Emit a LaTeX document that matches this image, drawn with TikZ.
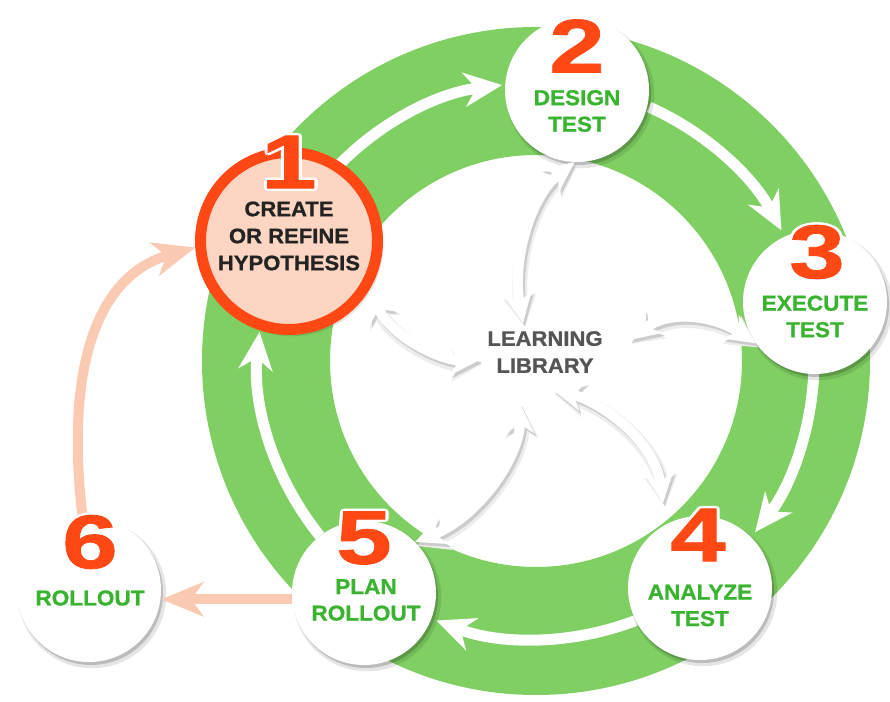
\documentclass[tikz,border=0pt]{standalone}
\usepackage{fontspec}
\setmainfont{Liberation Sans}[BoldFeatures={FakeBold=1,FakeStretch=1.05}]
\usepackage{graphicx}
\usetikzlibrary{arrows.meta,shadows,calc}
\definecolor{ringgreen}{RGB}{128,207,98}
\definecolor{labgreen}{RGB}{58,180,48}
\definecolor{numred}{RGB}{255,72,20}
\definecolor{peachfill}{RGB}{253,214,195}
\definecolor{peacharrow}{RGB}{250,202,178}
\definecolor{darktext}{RGB}{35,35,35}
\definecolor{graytext}{RGB}{85,85,85}
\newcommand\wcopy[3]{\makebox[0pt][l]{\hspace*{#1}\raisebox{#2}{\color{white}#3}}}
\newcommand\outlnum[1]{\scalebox{1.25}[1]{\wcopy{-2.5pt}{0pt}{#1}\wcopy{2.5pt}{0pt}{#1}\wcopy{0pt}{2.5pt}{#1}\wcopy{0pt}{-2.5pt}{#1}\wcopy{-1.8pt}{-1.8pt}{#1}\wcopy{1.8pt}{1.8pt}{#1}\wcopy{-1.8pt}{1.8pt}{#1}\wcopy{1.8pt}{-1.8pt}{#1}#1}}
\tikzset{
  circshadow/.style={drop shadow={shadow xshift=3pt,shadow yshift=-4pt,opacity=.10,fill=black,shadow scale=1.03},
                     drop shadow={shadow xshift=2pt,shadow yshift=-3pt,opacity=.18,fill=black}},
  stage/.style={circle, fill=white, minimum size=144pt, inner sep=0pt, circshadow},
  hypo/.style={circle, fill=peachfill, draw=numred, line width=11pt, minimum size=177pt, inner sep=0pt, circshadow},
  numtxt/.style={text=numred, font=\fontsize{76}{76}\selectfont\bfseries, inner sep=0pt},
  labtxt/.style={text=labgreen, font=\fontsize{21.5}{26.5}\selectfont\bfseries, align=center, inner sep=0pt},
  hypotxt/.style={text=darktext, font=\fontsize{21}{27}\selectfont\bfseries, align=center, inner sep=0pt},
  lltxt/.style={text=graytext, font=\fontsize{21}{27}\selectfont\bfseries, align=center, inner sep=0pt},
  ringarrow/.style={draw=white, line width=11pt, -{Stealth[length=38pt,width=34pt,inset=12pt]}},
  llarrow/.style={draw=white, line width=10pt, {Stealth[length=30pt,width=28pt,inset=9pt]}-{Stealth[length=30pt,width=28pt,inset=9pt]}},
  llshadowA/.style={draw=black!20, line width=10pt, {Stealth[length=30pt,width=28pt,inset=9pt]}-{Stealth[length=30pt,width=28pt,inset=9pt]}, transform canvas={shift={(2pt,-3pt)}}},
  llshadowB/.style={draw=black!7, line width=15pt, {Stealth[length=31pt,width=33pt,inset=9pt]}-{Stealth[length=31pt,width=33pt,inset=9pt]}, transform canvas={shift={(2pt,-4pt)}}},
  peach/.style={draw=peacharrow, line width=10pt, -{Stealth[length=42pt,width=34pt,inset=12pt]}}
}
\begin{document}
\begin{tikzpicture}[x=1pt,y=1pt]
\useasboundingbox (0,0) rectangle (890,701);
\coordinate (C) at (536,340);
% green ring
\fill[ringgreen, even odd rule] (C) circle[radius=334] (C) circle[radius=206];
% white arrows along the ring
\draw[ringarrow] ([shift={(C)}]140:278) arc[start angle=140,end angle=97,radius=278];
\draw[ringarrow] ([shift={(C)}]66:278) arc[start angle=66,end angle=28,radius=278];
\draw[ringarrow] ([shift={(C)}]-2:278) arc[start angle=-2,end angle=-38,radius=278];
\draw[ringarrow] ([shift={(C)}]-69:278) arc[start angle=-69,end angle=-111,radius=278];
\draw[ringarrow] ([shift={(C)}]219:278) arc[start angle=219,end angle=174,radius=278];
% stage circles
\node[hypo] (n1) at (289,460) {};
\node[stage] (n2) at (577,611) {};
\node[stage] (n3) at (815,399) {};
\node[stage] (n4) at (700,113) {};
\node[stage] (n5) at (364,108) {};
\node[stage] (n6) at (89,111) {};
% learning library
\node[lltxt] (ll) at (545,349) {LEARNING\\LIBRARY};
\coordinate (llN) at (523,378);
\coordinate (llE) at (630,361);
\coordinate (llSE) at (553,311);
\coordinate (llS) at (520,298);
\coordinate (llW) at (480,341);
\coordinate (n4t) at ($(n4.center)+(-37,85)$);
\foreach \st in {llshadowB,llshadowA,llarrow}{
  \draw[\st] (llN) .. controls (512,440) and (530,505) .. (n2.-92);
  \draw[\st] (llE) .. controls (670,392) and (715,385) .. (n3.215);
  \draw[\st] (llSE) .. controls (600,300) and (655,260) .. (n4t);
  \draw[\st] (llS) .. controls (520,245) and (480,185) .. (n5.45);
  \draw[\st] (llW) .. controls (445,340) and (395,360) .. (n1.-32);
}
% peach arrows
\draw[peach] (n5.185) -- (n5.185 -| n6.east);
\draw[peach] (n6.95) .. controls (65,330) and (95,425) .. (n1.184);
% texts
\node[hypotxt] (l1) at (289,465) {CREATE\\OR REFINE\\HYPOTHESIS};
\node[labtxt] (l2) at (577,590) {DESIGN\\TEST};
\node[labtxt] (l3) at (815,384.5) {EXECUTE\\TEST};
\node[labtxt] (l4) at (700,95.5) {ANALYZE\\TEST};
\node[labtxt] (l5) at (366,101) {PLAN\\ROLLOUT};
\node[labtxt] (l6) at (90,103) {ROLLOUT};
% numbers
\node[numtxt] (d1) at (289,539) {\outlnum{1}};
\node[numtxt] (d2) at (577,655) {\outlnum{2}};
\node[numtxt] (d3) at (817,449) {\outlnum{3}};
\node[numtxt] (d4) at (698,166) {\outlnum{4}};
\node[numtxt] (d5) at (364,163) {\outlnum{5}};
\node[numtxt] (d6) at (90,159) {\outlnum{6}};
\end{tikzpicture}
\end{document}
